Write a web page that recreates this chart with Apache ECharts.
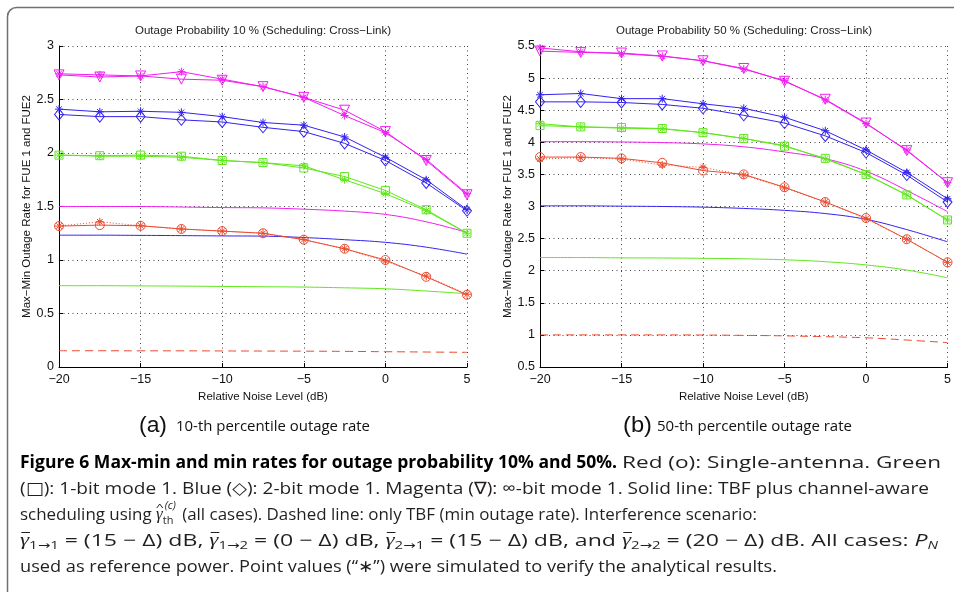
<!DOCTYPE html>
<html>
<head>
<meta charset="utf-8">
<script src="https://cdn.jsdelivr.net/npm/echarts@6/dist/echarts.min.js"></script>
<style>
  html, body { margin: 0; padding: 0; background: #fff; }
  #chart { width: 954px; height: 592px; }
</style>
</head>
<body>
<div id="chart"></div>
<script>
// Relative noise level (dB), shared x positions of every curve
const noiseDb = [-20, -17.5, -15, -12.5, -10, -7.5, -5, -2.5, 0, 2.5, 5];
const xTicks = [-20, -15, -10, -5, 0, 5];

// (a) 10-th percentile outage rate
const a_magentaAna   = [2.73, 2.71, 2.72, 2.69, 2.68, 2.62, 2.52, 2.40, 2.20, 1.93, 1.61];
const a_magentaSim   = [2.74, 2.73, 2.72, 2.76, 2.69, 2.62, 2.52, 2.35, 2.19, 1.94, 1.62];
const a_blueAna      = [2.36, 2.34, 2.34, 2.31, 2.29, 2.24, 2.20, 2.09, 1.93, 1.72, 1.46];
const a_blueSim      = [2.41, 2.385, 2.39, 2.38, 2.34, 2.285, 2.26, 2.15, 1.96, 1.75, 1.47];
const a_greenAna     = [1.98, 1.975, 1.98, 1.97, 1.93, 1.91, 1.86, 1.78, 1.65, 1.47, 1.25];
const a_greenSim     = [1.98, 1.97, 1.97, 1.96, 1.93, 1.91, 1.88, 1.75, 1.62, 1.46, 1.25];
const a_redAna       = [1.317, 1.326, 1.32, 1.29, 1.27, 1.25, 1.19, 1.105, 1.0, 0.843, 0.675];
const a_redSim       = [1.317, 1.357, 1.32, 1.29, 1.27, 1.25, 1.19, 1.105, 0.99, 0.85, 0.68];
const a_magentaSched = [1.50, 1.50, 1.50, 1.495, 1.49, 1.487, 1.475, 1.457, 1.426, 1.357, 1.258];
const a_blueSched    = [1.232, 1.232, 1.23, 1.228, 1.225, 1.223, 1.21, 1.19, 1.165, 1.12, 1.055];
const a_greenSched   = [0.76, 0.76, 0.758, 0.756, 0.753, 0.75, 0.747, 0.74, 0.731, 0.71, 0.685];
const a_redTbf       = [0.152, 0.152, 0.151, 0.151, 0.150, 0.149, 0.148, 0.146, 0.143, 0.140, 0.137];

// (b) 50-th percentile outage rate
const b_magentaAna   = [5.42, 5.40, 5.39, 5.345, 5.27, 5.15, 4.95, 4.67, 4.30, 3.87, 3.37];
const b_magentaSim   = [5.47, 5.41, 5.38, 5.34, 5.27, 5.14, 4.96, 4.66, 4.29, 3.88, 3.37];
const b_blueAna      = [4.63, 4.63, 4.62, 4.59, 4.53, 4.42, 4.30, 4.10, 3.84, 3.49, 3.07];
const b_blueSim      = [4.74, 4.76, 4.68, 4.68, 4.60, 4.53, 4.39, 4.18, 3.88, 3.53, 3.12];
const b_greenAna     = [4.26, 4.24, 4.23, 4.215, 4.15, 4.06, 3.94, 3.75, 3.50, 3.18, 2.79];
const b_greenSim     = [4.29, 4.24, 4.22, 4.21, 4.15, 4.06, 3.95, 3.74, 3.50, 3.18, 2.79];
const b_redAna       = [3.77, 3.77, 3.75, 3.68, 3.56, 3.50, 3.30, 3.07, 2.82, 2.49, 2.13];
const b_redSim       = [3.74, 3.76, 3.74, 3.645, 3.61, 3.49, 3.29, 3.07, 2.81, 2.49, 2.13];
const b_magentaSched = [4.01, 4.01, 4.005, 3.995, 3.975, 3.93, 3.85, 3.745, 3.55, 3.25, 2.92];
const b_blueSched    = [3.01, 3.01, 3.005, 3.0, 2.99, 2.97, 2.94, 2.89, 2.80, 2.64, 2.45];
const b_greenSched   = [2.205, 2.205, 2.2, 2.198, 2.193, 2.185, 2.17, 2.14, 2.09, 2.01, 1.89];
const b_redTbf       = [1.0, 1.0, 1.0, 1.0, 0.998, 0.993, 0.985, 0.972, 0.955, 0.92, 0.88];

const panelTitles = ['Outage Probability 10 % (Scheduling: Cross\u2212Link)',
                     'Outage Probability 50 % (Scheduling: Cross\u2212Link)'];
const xName = 'Relative Noise Level (dB)';
const yName = 'Max\u2212Min Outage Rate for FUE 1 and FUE2';

const RED = '#ea4a2f', GREEN = '#5fe81a', BLUE = '#3322f0', MAGENTA = '#f01ef0';
const STAR = 'path://M5,0L5,10M0,5L10,5M1.5,1.5L8.5,8.5M1.5,8.5L8.5,1.5';
const AXFONT = "'Liberation Sans', Arial, sans-serif";

function curve(panel, values, color, opt) {
  opt = opt || {};
  return {
    type: 'line',
    xAxisIndex: panel, yAxisIndex: panel,
    data: noiseDb.map((x, i) => [x, values[i]]),
    symbol: opt.symbol || 'none',
    showSymbol: !!opt.symbol,
    symbolSize: opt.size || 9,
    symbolRotate: opt.rotate || 0,
    smooth: opt.smooth || false,
    lineStyle: { color: color, width: 1, type: opt.dash || 'solid' },
    itemStyle: { color: 'transparent', borderColor: color, borderWidth: 1 },
    emphasis: { disabled: true },
    silent: true,
    z: opt.z || 2
  };
}

function panelSeries(p, d) {
  return [
    curve(p, d.magSched, MAGENTA, { smooth: 0.4 }),
    curve(p, d.blueSched, BLUE, { smooth: 0.4 }),
    curve(p, d.greenSched, GREEN, { smooth: 0.4 }),
    curve(p, d.redTbf, RED, { smooth: 0.4, dash: [8, 5] }),
    curve(p, d.redAna, RED, { symbol: 'circle', size: 9, z: 3 }),
    curve(p, d.redSim, RED, { symbol: STAR, size: 8, dash: [1, 2], z: 3 }),
    curve(p, d.greenAna, GREEN, { symbol: 'rect', size: 8, z: 3 }),
    curve(p, d.greenSim, GREEN, { symbol: STAR, size: 8, z: 3 }),
    curve(p, d.blueAna, BLUE, { symbol: 'diamond', size: [9, 11], z: 3 }),
    curve(p, d.blueSim, BLUE, { symbol: STAR, size: 8, z: 3 }),
    curve(p, d.magAna, MAGENTA, { symbol: 'triangle', size: 10, rotate: 180, z: 3 }),
    curve(p, d.magSim, MAGENTA, { symbol: STAR, size: 8, z: 3 })
  ];
}

function xAxisFor(gridIndex) {
  return {
    type: 'value', gridIndex: gridIndex,
    min: xTicks[0], max: xTicks[xTicks.length - 1], interval: 5,
    name: xName, nameLocation: 'middle', nameGap: 20,
    nameTextStyle: { fontFamily: AXFONT, fontSize: 11.5, color: '#111' },
    axisLine: { show: true, onZero: false, lineStyle: { color: '#000', width: 1 } },
    axisTick: { show: true, inside: true, length: 4, lineStyle: { color: '#000' } },
    axisLabel: { fontFamily: AXFONT, fontSize: 12.5, color: '#111', margin: 6,
                 formatter: v => String(v).replace('-', '\u2212') },
    splitLine: { show: true, lineStyle: { color: '#444', width: 1, type: [1, 3.5] } }
  };
}

function yAxisFor(gridIndex, min, max) {
  return {
    type: 'value', gridIndex: gridIndex, min: min, max: max, interval: 0.5,
    name: yName, nameLocation: 'middle', nameGap: 26,
    nameTextStyle: { fontFamily: AXFONT, fontSize: 11.5, color: '#111' },
    axisLine: { show: true, onZero: false, lineStyle: { color: '#000', width: 1 } },
    axisTick: { show: true, inside: true, length: 4, lineStyle: { color: '#000' } },
    axisLabel: { fontFamily: AXFONT, fontSize: 12.5, color: '#111', margin: 5 },
    splitLine: { show: true, lineStyle: { color: '#444', width: 1, type: [1, 3.5] } }
  };
}

// ---- caption text runs, drawn as groups squeezed to the column width ----
const SANS = "'Open Sans','Noto Sans','DejaVu Sans',sans-serif";
const SERIF = "'Liberation Serif','DejaVu Serif',serif";
const measureCtx = document.createElement('canvas').getContext('2d');
function fontOf(s) {
  return (s.italic ? 'italic ' : '') + (s.bold ? 'bold ' : '') + s.size + 'px ' + (s.family || SANS);
}
function textRun(segs, x0, y0, x1, color) {
  let x = 0;
  const kids = [];
  segs.forEach(s => {
    const font = fontOf(s);
    measureCtx.font = font;
    const w = measureCtx.measureText(s.t).width;
    kids.push({
      type: 'text', x: x + (s.dx || 0), y: s.dy || 0, silent: true,
      style: { text: s.t, font: font, fill: s.color || color,
               align: 'left', verticalAlign: 'middle', textAlign: 'left', textVerticalAlign: 'middle' }
    });
    if (s.bar) {
      kids.push({ type: 'line', silent: true,
        shape: { x1: x + w * 0.15, y1: -8.5, x2: x + w * 1.1, y2: -8.5 },
        style: { stroke: color, lineWidth: 1 } });
    }
    if (s.hat) {
      kids.push({ type: 'polyline', silent: true,
        shape: { points: [[x + w * 0.1, -7], [x + w * 0.55, -11], [x + w * 1.0, -7]] },
        style: { stroke: color, fill: null, lineWidth: 1 } });
    }
    if (!s.stay) x += w;
  });
  return { type: 'group', x: x0, y: y0, scaleX: (x1 - x0) / x, silent: true, children: kids };
}

const C = '#231f20';
const N = 17, SUB = 11;
const gbar = { t: '\u03b3', size: N, family: SERIF, italic: true, bar: true };
const captionRuns = [
  textRun([{ t: 'Figure 6 Max-min and min rates for outage probability 10% and 50%.', size: N, bold: true }], 20, 463, 617, '#000'),
  textRun([{ t: 'Red (o): Single-antenna. Green', size: N }], 622, 463, 941, C),
  textRun([{ t: '(\u25a1): 1-bit mode 1. Blue (\u25c7): 2-bit mode 1. Magenta (\u2207): \u221e-bit mode 1. Solid line: TBF plus channel-aware', size: N }], 20, 489, 929, C),
  textRun([
    { t: 'scheduling using ', size: N },
    { t: '\u03b3', size: N, family: SERIF, italic: true, hat: true },
    { t: '(c)', size: SUB, dy: -9, dx: 2, stay: true, italic: true },
    { t: 'th', size: SUB, dy: 6 },
    { t: '  (all cases). Dashed line: only TBF (min outage rate). Interference scenario:', size: N }
  ], 20, 515, 757, C),
  textRun([
    gbar, { t: '1\u21921', size: SUB, dy: 5 }, { t: ' = (15 \u2212 \u0394) dB, ', size: N },
    gbar, { t: '1\u21922', size: SUB, dy: 5 }, { t: ' = (0 \u2212 \u0394) dB, ', size: N },
    gbar, { t: '2\u21921', size: SUB, dy: 5 }, { t: ' = (15 \u2212 \u0394) dB, and ', size: N },
    gbar, { t: '2\u21922', size: SUB, dy: 5 }, { t: ' = (20 \u2212 \u0394) dB. All cases: ', size: N },
    { t: 'P', size: N, italic: true }, { t: 'N', size: SUB, dy: 5, italic: true }
  ], 20, 541, 938, C),
  textRun([{ t: 'used as reference power. Point values (\u201c\u2217\u201d) were simulated to verify the analytical results.', size: N }], 20, 567, 777, C)
];

const subCaptions = [
  textRun([{ t: '(a)', size: 22, family: AXFONT }], 139, 426, 167, '#111'),
  textRun([{ t: '10-th percentile outage rate', size: 14 }], 176, 427, 370, '#111'),
  textRun([{ t: '(b)', size: 22, family: AXFONT }], 623, 426, 652, '#111'),
  textRun([{ t: '50-th percentile outage rate', size: 14 }], 657, 427, 852, '#111')
];

const titleTexts = [
  { type: 'text', x: 263, y: 31, silent: true,
    style: { text: panelTitles[0], font: '11.5px ' + AXFONT, fill: '#222',
             align: 'center', verticalAlign: 'middle', textAlign: 'center', textVerticalAlign: 'middle' } },
  { type: 'text', x: 744, y: 31, silent: true,
    style: { text: panelTitles[1], font: '11.5px ' + AXFONT, fill: '#222',
             align: 'center', verticalAlign: 'middle', textAlign: 'center', textVerticalAlign: 'middle' } }
];

const frame = {
  type: 'rect', silent: true, z: -1,
  shape: { x: 7.5, y: 7.5, width: 1000, height: 700, r: 9 },
  style: { fill: null, stroke: '#707070', lineWidth: 1.5 }
};

const chart = echarts.init(document.getElementById('chart'), null, { renderer: 'canvas' });
chart.setOption({
  animation: false,
  backgroundColor: '#fff',
  grid: [
    { left: 59, top: 46, width: 408, height: 321 },
    { left: 540, top: 46, width: 408, height: 321 }
  ],
  xAxis: [xAxisFor(0), xAxisFor(1)],
  yAxis: [yAxisFor(0, 0, 3), yAxisFor(1, 0.5, 5.5)],
  series: [].concat(
    panelSeries(0, {
      magSched: a_magentaSched, blueSched: a_blueSched, greenSched: a_greenSched, redTbf: a_redTbf,
      redAna: a_redAna, redSim: a_redSim, greenAna: a_greenAna, greenSim: a_greenSim,
      blueAna: a_blueAna, blueSim: a_blueSim, magAna: a_magentaAna, magSim: a_magentaSim
    }),
    panelSeries(1, {
      magSched: b_magentaSched, blueSched: b_blueSched, greenSched: b_greenSched, redTbf: b_redTbf,
      redAna: b_redAna, redSim: b_redSim, greenAna: b_greenAna, greenSim: b_greenSim,
      blueAna: b_blueAna, blueSim: b_blueSim, magAna: b_magentaAna, magSim: b_magentaSim
    })
  ),
  graphic: [frame].concat(titleTexts, subCaptions, captionRuns)
});
</script>
</body>
</html>
